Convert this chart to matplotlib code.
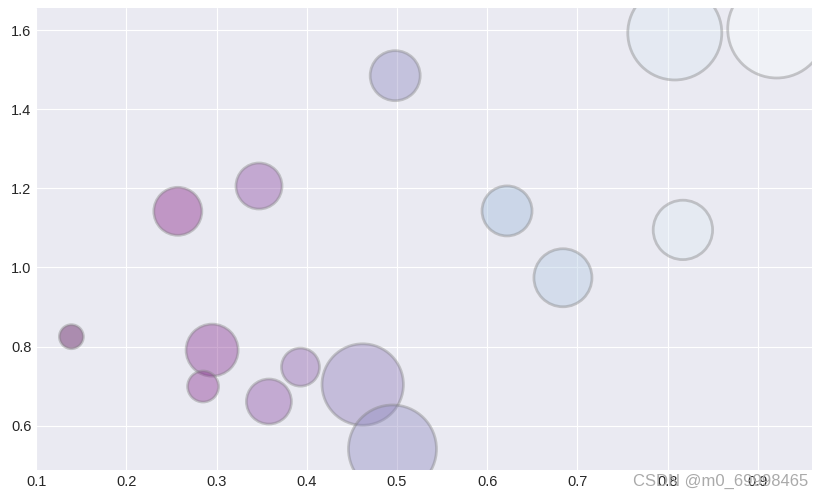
import numpy as np
import matplotlib
matplotlib.use("Agg")
import matplotlib.pyplot as plt

plt.style.use('seaborn-v0_8-darkgrid')
plt.rcParams['font.family'] = ['Liberation Sans', 'DejaVu Sans']

# 气泡数据
x = [0.139, 0.257, 0.347, 0.295, 0.285, 0.358, 0.393, 0.462,
     0.495, 0.498, 0.622, 0.684, 0.817, 0.808, 0.921]
y = [0.825, 1.142, 1.206, 0.791, 0.699, 0.661, 0.748, 0.704,
     0.541, 1.485, 1.143, 0.974, 1.095, 1.593, 1.603]
sizes = [299, 1194, 1097, 1402, 498, 1050, 749, 3435,
         4014, 1296, 1296, 1744, 1829, 4581, 4978]

fig = plt.figure(figsize=(8.21, 5.0), dpi=100)
ax = fig.add_axes([0.044, 0.06, 0.945, 0.924])

ax.scatter(x, y, s=sizes, c=x, cmap='BuPu_r', alpha=0.4,
           edgecolors='grey', linewidths=2)

ax.tick_params(labelsize=10.5)

fig.text(0.985, 0.022, "CSDN @m0_69998465", ha='right', va='bottom',
         fontsize=12, color='#aaaaaa')

fig.savefig("out.png", dpi=100)
